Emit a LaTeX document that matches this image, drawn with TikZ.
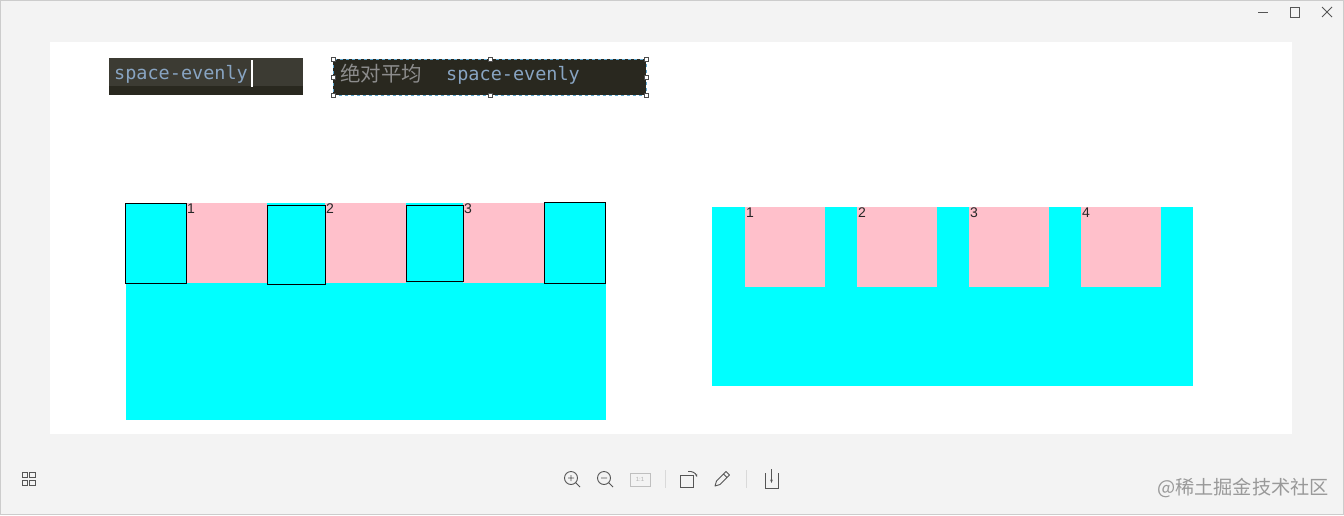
\documentclass[tikz,border=0pt]{standalone}
\usepackage{fontspec}
\setmainfont{Liberation Sans}
\newfontfamily\monofont{DejaVu Sans Mono}
\newfontfamily\cjkfont{Noto Sans CJK SC}
\usetikzlibrary{positioning}
\usetikzlibrary{arrows.meta}

\definecolor{winbg}{HTML}{F3F3F3}
\definecolor{editor}{HTML}{3C3B33}
\definecolor{editordark}{HTML}{29281F}
\definecolor{codeblue}{HTML}{88A4C2}
\definecolor{cjkgray}{HTML}{8C8C8C}
\definecolor{itempink}{HTML}{FFC0CB}
\definecolor{boxcyan}{HTML}{00FFFF}
\definecolor{selblue}{HTML}{5FA8D0}
\definecolor{icongray}{HTML}{555555}

\begin{document}
\begin{tikzpicture}[x=1pt, y=-1pt,
        box_style/.style={draw=black, line width=0.8pt, fill=boxcyan, inner sep=0pt, anchor=north west},
        item_style/.style={fill=itempink, inner sep=0pt, anchor=north west, minimum width=80pt, minimum height=80pt},
        wrap_style/.style={fill=boxcyan, inner sep=0pt, anchor=north west},
        num_style/.style={anchor=north west, inner sep=1pt, font=\fontsize{14}{14}\selectfont, text=black!85},
        code_style/.style={font=\monofont\fontsize{18.5}{20}\selectfont, text=codeblue, inner sep=0pt, anchor=base west},
        handle_style/.style={draw=black!70, fill=white, minimum size=4pt, inner sep=0pt, line width=0.4pt},
        icon_style/.style={draw=icongray, line width=1.1pt}]

        \useasboundingbox (0,0) rectangle (1344,515);
        \fill[winbg] (0,0) rectangle (1344,515);
        \draw[black!20] (0.5,0.5) rectangle (1343.5,514.5);
        \node[fill=white, inner sep=0pt, anchor=north west, minimum width=1242pt, minimum height=392pt] (canvas) at (50,42) {};

        % window buttons
        \draw[icongray, line width=0.8pt] (1258,12) -- (1268,12);
        \draw[icongray, line width=0.8pt] (1290,7.5) rectangle (1299.5,17);
        \draw[icongray, line width=0.8pt] (1322,7) -- (1332,17) (1332,7) -- (1322,17);

        % editor snippets
        \fill[editor] (109,58) rectangle (303,86);
        \fill[editordark] (109,86) rectangle (303,95);
        \node[code_style] (code1) at (114,79) {space-evenly};
        \draw[white, line width=1.5pt] (252,60) -- (252,87);

        \node[fill=editordark, inner sep=0pt, anchor=north west, minimum width=313pt, minimum height=36pt] (sel) at (333,59) {};
        \draw[selblue, dashed, line width=0.6pt] (sel.north west) rectangle (sel.south east);
        \foreach \a [count=\i] in {north west, north, north east, west, east, south west, south, south east}
            \node[handle_style] (h\i) at (sel.\a) {};
        \node[code_style, font=\cjkfont\fontsize{20.5}{21}\selectfont, text=cjkgray] (cn) at (340,81) {绝对平均};
        \node[code_style] (code2) at (446,80) {space-evenly};

        % left: space-evenly with pseudo boxes
        \node[wrap_style, minimum width=480pt, minimum height=217pt] (wrapL) at (126,203) {};
        \node[item_style, minimum width=81pt] (p1) at (186,203) {};
        \node[item_style, minimum width=81pt] (p2) at (325,203) {};
        \node[item_style, minimum width=81pt] (p3) at (463,203) {};
        \node[box_style, minimum width=61pt, minimum height=80pt] (c1) at (125,203) {};
        \node[box_style, minimum width=58pt, minimum height=79pt] (c2) at (267,205) {};
        \node[box_style, minimum width=57pt, minimum height=76pt] (c3) at (406,205) {};
        \node[box_style, minimum width=61pt, minimum height=81pt] (c4) at (544,202) {};
        \foreach \i in {1,2,3}
            \node[num_style] (n\i) at (p\i.north west) {\i};

        % right: space-evenly
        \node[wrap_style, minimum width=481pt, minimum height=179pt] (wrapR) at (712,207) {};
        \foreach \i in {1,...,4} {
            \node[item_style] (q\i) at (745+112*\i-112,207) {};
            \node[num_style] (m\i) at (q\i.north west) {\i};
        }

        % toolbar
        \draw[icongray, line width=0.9pt] (22,472) rectangle (27.5,477.5) (29.5,472) rectangle (35,477.5)
            (22,480) rectangle (27.5,485.5) (29.5,480) rectangle (35,485.5);
        \draw[icon_style, line width=0.9pt] (571,478) circle (6.5) (575.5,482.5) -- (580,487) (568,478) -- (574,478) (571,475) -- (571,481);
        \draw[icon_style, line width=0.9pt] (604,478) circle (6.5) (608.5,482.5) -- (613,487) (601,478) -- (607,478);
        \draw[black!25, line width=0.8pt] (630,473) rectangle (650,486);
        \node[inner sep=0pt, font=\fontsize{6}{6}\selectfont, text=black!30] (fit) at (640,479.5) {1:1};
        \draw[black!15, line width=0.8pt] (665,470) -- (665,488) (746,470) -- (746,488);
        \draw[icon_style, line width=0.9pt] (680,475) rectangle (693,487);
        \draw[icon_style, line width=0.9pt, -{Stealth[length=3pt]}] (688,471.5) to[bend left=40] (697,477);
        \draw[icon_style, line width=0.9pt, line join=round] (715,486) -- (716.5,481) -- (726,471.5) -- (729.5,475) -- (720,484.5) -- cycle (723.5,474) -- (727,477.5);
        \draw[icon_style, line width=0.9pt] (765,473) -- (765,488) -- (778,488) -- (778,473);
        \draw[icon_style, line width=0.9pt, -{Stealth[length=3.5pt]}] (771.5,469) -- (771.5,483);

        % watermark
        \node[anchor=west, inner sep=0pt, font=\cjkfont\fontsize{19.2}{20}\selectfont, text=black!40] (mark) at (1157,488) {@稀土掘金技术社区};
\end{tikzpicture}
\end{document}
